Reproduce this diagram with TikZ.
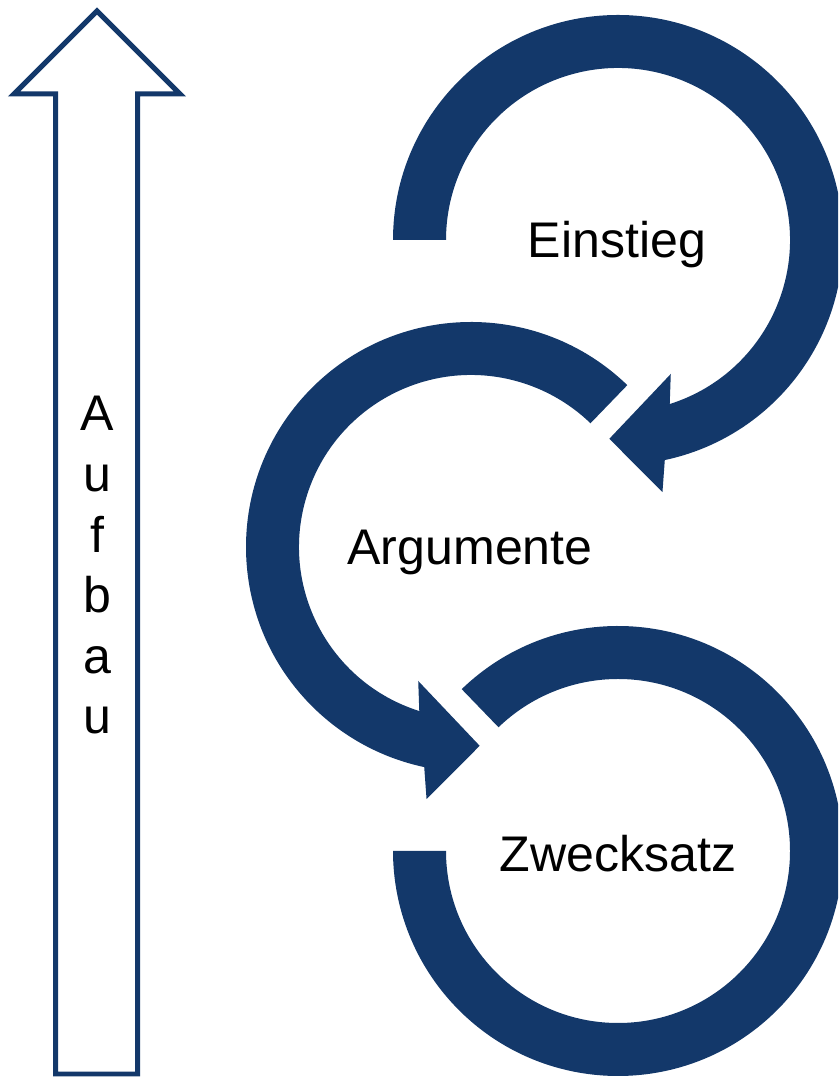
\documentclass[tikz,border=0pt]{standalone}
\usepackage{fontspec}
\setmainfont{Liberation Sans}
\usetikzlibrary{calc}
\definecolor{Navy}{HTML}{13386A}
\tikzset{
  ringband/.style={fill=Navy,draw=none},
  hollowarrow/.style={draw=Navy,line width=0.1cm,fill=white,line join=miter},
  steplabel/.style={anchor=base,text=black,font=\fontsize{28.5}{34}\selectfont},
  upletter/.style={anchor=base,text=black,font=\fontsize{28.5}{34}\selectfont},
}

\begin{document}
\begin{tikzpicture}[x=0.02cm,y=0.02cm]
    \useasboundingbox (0,0) rectangle (838,1077);
    \clip (0,0) rectangle (838,1077);

    \draw[hollowarrow] (55.5,3) -- (55.5,983) -- (14,983) -- (97,1066) -- (180,983) -- (137.5,983) -- (137.5,3) -- cycle;
    \foreach \ch [count=\i] in {A,u,f,b,a,u}
      \node[upletter] (aufbau\i) at (97,{646-(\i-1)*60.6}) {\ch};

    \coordinate (einstiegc) at (618,837);
    \coordinate (argumentec) at (471,530);
    \coordinate (zwecksatzc) at (618,226);

    \fill[ringband] ($(einstiegc)+(180:225)$) arc[start angle=180,end angle=-78,radius=225]
      -- ($(einstiegc)+(-80:256)$) -- ($(einstiegc)+(-92.5:199)$) -- ($(einstiegc)+(-68.5:144)$)
      -- ($(einstiegc)+(-72.5:172)$) arc[start angle=-72.5,end angle=180,radius=172] -- cycle;

    \fill[ringband] ($(argumentec)+(46:225)$) arc[start angle=46,end angle=258,radius=225]
      -- ($(argumentec)+(260:256)$) -- ($(argumentec)+(272.5:199)$) -- ($(argumentec)+(248.5:144)$)
      -- ($(argumentec)+(252.5:172)$) arc[start angle=252.5,end angle=46,radius=172] -- cycle;

    \fill[ringband] ($(zwecksatzc)+(134:225)$) arc[start angle=134,end angle=-180,radius=225]
      -- ($(zwecksatzc)+(180:172)$) arc[start angle=-180,end angle=134,radius=172] -- cycle;

    \node[steplabel] (einstieg) at (617,819) {Einstieg};
    \node[steplabel] (argumente) at (470,512) {Argumente};
    \node[steplabel] (zwecksatz) at (618,205) {Zwecksatz};
  \end{tikzpicture}
\end{document}
